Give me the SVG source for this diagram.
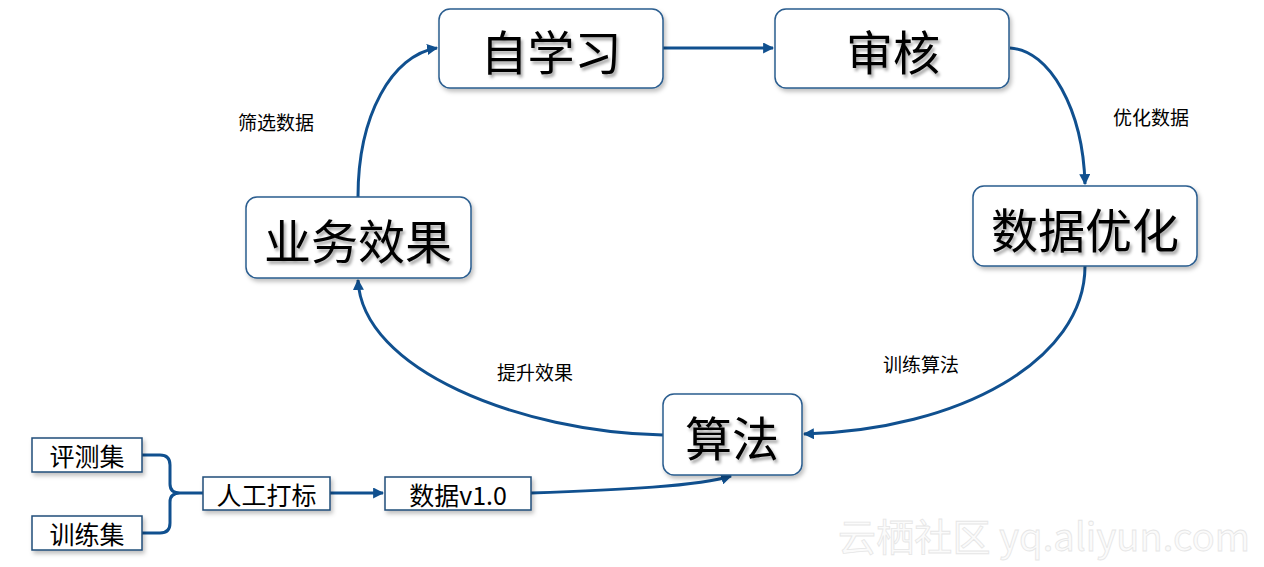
<svg xmlns="http://www.w3.org/2000/svg" width="1264" height="567" viewBox="0 0 1264 567">
<defs>
<style>
.big{fill:#fff;stroke:#2a5d8f;stroke-width:1.5}
.sm{fill:#fff;stroke:#1f4e79;stroke-width:1.5}
.bt{font-family:"Noto Sans CJK SC","Noto Sans",sans-serif;font-size:47px;fill:#000;text-anchor:middle;dominant-baseline:central}
.st{font-family:"Noto Sans CJK SC","Noto Sans",sans-serif;font-size:25px;fill:#000;text-anchor:middle;dominant-baseline:central}
.lb{font-family:"Noto Sans CJK SC","Noto Sans",sans-serif;font-size:19px;fill:#000;text-anchor:middle;dominant-baseline:central}
.cn{fill:none;stroke:#10508f;stroke-width:3}
.wm{font-family:"Noto Sans CJK SC","Noto Sans",sans-serif;font-size:38px;fill:#fbfbfb;stroke:#e6e6e6;stroke-width:0.8}
</style>
<filter id="sh" x="-10%" y="-10%" width="130%" height="140%">
<feDropShadow dx="2" dy="3" stdDeviation="2" flood-color="#000" flood-opacity="0.25"/>
</filter>
<filter id="tsh" x="-10%" y="-10%" width="130%" height="140%">
<feDropShadow dx="2" dy="3" stdDeviation="1.5" flood-color="#000" flood-opacity="0.35"/>
</filter>
<marker id="ar" viewBox="0 0 10 10" refX="9" refY="5" markerWidth="11" markerHeight="11" markerUnits="userSpaceOnUse" orient="auto">
<path d="M0,0 L10,5 L0,10 z" fill="#10508f"/>
</marker>
</defs>
<rect width="1264" height="567" fill="#fff"/>

<text class="wm" x="838" y="551" textLength="412">云栖社区 yq.aliyun.com</text>

<g id="connectors">
<path class="cn" d="M663,48 H773" marker-end="url(#ar)"/>
<path class="cn" d="M1010,48 C1050,50 1083,110 1085,184" marker-end="url(#ar)"/>
<path class="cn" d="M1085,266 C1085,360 960,430 804,434" marker-end="url(#ar)"/>
<path class="cn" d="M663,435 C520,432 362,370 358,280" marker-end="url(#ar)"/>
<path class="cn" d="M358,197 C358,115 392,55 437,48" marker-end="url(#ar)"/>
<path class="cn" d="M531,493 C620,490 700,486 731,476" marker-end="url(#ar)"/>
<path class="cn" d="M330,493 H383" marker-end="url(#ar)"/>
<path class="cn" d="M142,455 H160 Q170,455 170,465 V484 Q170,493 180,493 H203 M142,533 H160 Q170,533 170,523 V502 Q170,493 180,493"/>
</g>

<g id="labels">
<text class="lb" x="276" y="121">筛选数据</text>
<text class="lb" x="1151" y="116">优化数据</text>
<text class="lb" x="921" y="363">训练算法</text>
<text class="lb" x="535" y="371">提升效果</text>
</g>

<g id="n-zixuexi">
<rect class="big" x="439" y="9" width="224" height="79" rx="11" filter="url(#sh)"/>
<text class="bt" x="551" y="49" filter="url(#tsh)">自学习</text>
</g>
<g id="n-shenhe">
<rect class="big" x="775" y="9" width="234" height="79" rx="11" filter="url(#sh)"/>
<text class="bt" x="893" y="49" filter="url(#tsh)">审核</text>
</g>
<g id="n-shujuyouhua">
<rect class="big" x="973" y="186" width="224" height="80" rx="11" filter="url(#sh)"/>
<text class="bt" x="1085" y="227" filter="url(#tsh)">数据优化</text>
</g>
<g id="n-yewuxiaoguo">
<rect class="big" x="246" y="197" width="225" height="81" rx="11" filter="url(#sh)"/>
<text class="bt" x="358" y="238" filter="url(#tsh)">业务效果</text>
</g>
<g id="n-suanfa">
<rect class="big" x="663" y="394" width="139" height="81" rx="11" filter="url(#sh)"/>
<text class="bt" x="732" y="435" filter="url(#tsh)">算法</text>
</g>
<g id="n-pingceji">
<rect class="sm" x="32" y="438" width="110" height="34" filter="url(#sh)"/>
<text class="st" x="87" y="455">评测集</text>
</g>
<g id="n-xunlianji">
<rect class="sm" x="32" y="516" width="110" height="34" filter="url(#sh)"/>
<text class="st" x="87" y="533">训练集</text>
</g>
<g id="n-rengongdabiao">
<rect class="sm" x="203" y="477" width="127" height="33" filter="url(#sh)"/>
<text class="st" x="266.5" y="493.5">人工打标</text>
</g>
<g id="n-shujuv10">
<rect class="sm" x="385" y="477" width="146" height="33" filter="url(#sh)"/>
<text class="st" x="458" y="493.5">数据v1.0</text>
</g>
</svg>
